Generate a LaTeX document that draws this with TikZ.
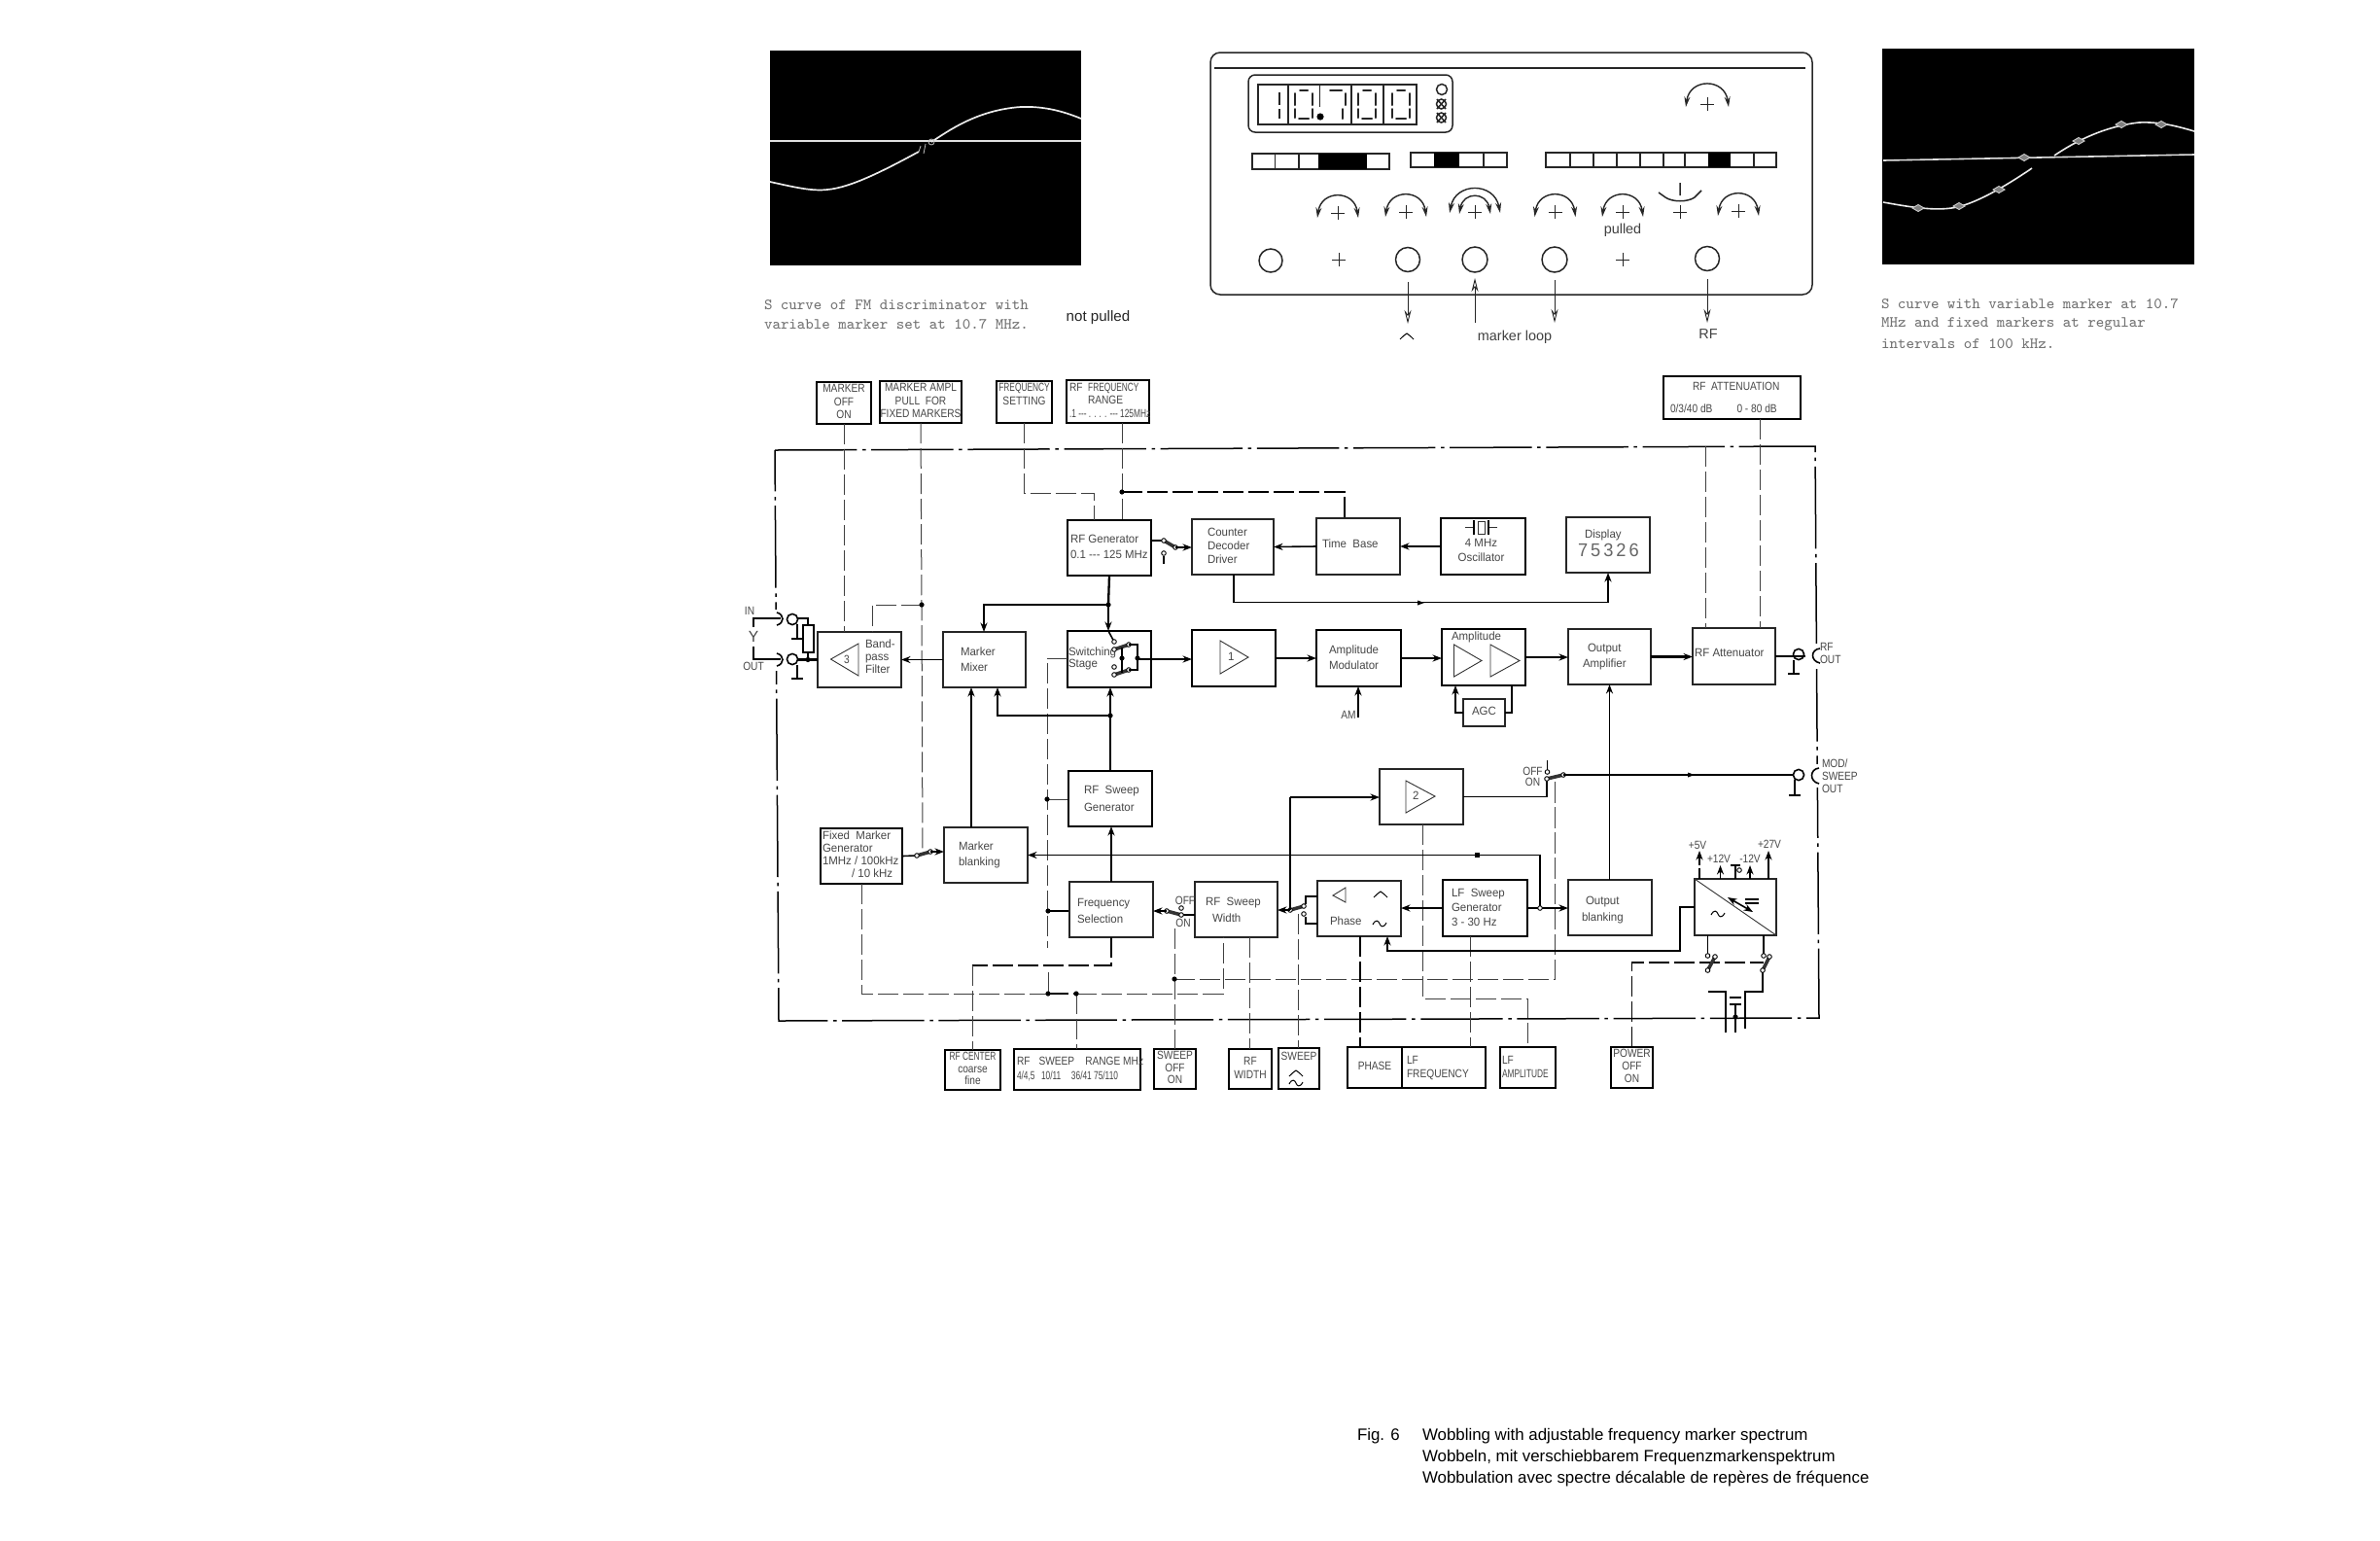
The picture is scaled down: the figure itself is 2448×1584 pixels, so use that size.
\documentclass[tikz,border=0pt]{standalone}
\usepackage{fontspec}
\usepackage{graphicx}
\usetikzlibrary{arrows.meta}
\setmainfont{Liberation Sans}
\newfontfamily\dinf[FakeStretch=0.96]{Liberation Sans}
\newfontfamily\dinu[FakeStretch=0.85]{Liberation Sans}
\newdimen\upx \upx=0.01cm
\newcommand\fsz{3.4}
\gdef\bstyle{boxthin}
\gdef\bfam{\dinf}
\newcommand\thk{\gdef\bstyle{boxthick}}
\newcommand\ctl{\gdef\bstyle{boxthick}\gdef\bfam{\dinu}}
\newcommand\sq[1]{\scalebox{.82}[1]{#1}}
\tikzset{
 boxthin/.style={draw=black!85,line width=1.4*0.01cm,inner sep=0pt,outer sep=0pt,text=black!72},
 boxthick/.style={draw=black,line width=2.4*0.01cm,inner sep=0pt,outer sep=0pt,text=black!72},
 lab/.style={inner sep=0pt,outer sep=0pt,text=black!72,font=\dinu\fontsize{3.4}{4}\selectfont},
 conn/.style={draw=black,line width=1.6*0.01cm,>={Stealth[length=2.7pt,width=2pt]}},
 connb/.style={draw=black,line width=2.3*0.01cm,>={Stealth[length=2.7pt,width=2pt]}},
 dsh/.style={draw=black!75,line width=1*0.01cm,dash pattern=on 6pt off 1.4pt},
 dshb/.style={draw=black,line width=1.25*0.01cm,dash pattern=on 6pt off 1.4pt},
 frm/.style={draw=black,line width=1.5*0.01cm,dash pattern=on 24pt off 1.6pt on 1pt off 1.6pt},
 blade/.style={draw=black!80,line width=3.6*0.01cm},
 ocirc/.style={draw=black,fill=white,line width=0.9*0.01cm},
 dotj/.style={fill=black},
 pnl/.style={draw=black!85,line width=1.5*0.01cm},
 kna/.style={draw=black!85,line width=1.4*0.01cm,<->,>={Stealth[length=3pt,width=1.7pt]}},
 capt/.style={inner sep=0pt,outer sep=0pt,anchor=west,text=black!55,font=\ttfamily\fontsize{4.55}{5}\selectfont},
 figt/.style={inner sep=0pt,outer sep=0pt,anchor=west,text=black,font=\fontsize{4.8}{5.5}\selectfont},
}
% box: [leading]{name}{x1}{y1}{x2}{y2}{left pad}{dy}{lines}
\newcommand\bx[9][13]{%
 \node[\bstyle,minimum width={(#5-#3)*0.01cm},minimum height={(#6-#4)*0.01cm},
  font=\bfam\fontsize{\fsz}{#1\upx}\selectfont] (#2) at ({(#3+#5)/2},{(#4+#6)/2})
  {\makebox[\dimexpr#5\upx-#3\upx\relax][l]{\hspace*{#7\upx}\raisebox{\dimexpr-#8\upx-1.6\upx-0.25em\relax}[0pt][0pt]{\begin{tabular}[c]{@{}l@{}}#9\end{tabular}}}};%
 \gdef\bstyle{boxthin}\gdef\bfam{\dinf}}
\newcommand\bxc[9][13]{%
 \node[\bstyle,minimum width={(#5-#3)*0.01cm},minimum height={(#6-#4)*0.01cm},
  font=\bfam\fontsize{\fsz}{#1\upx}\selectfont] (#2) at ({(#3+#5)/2},{(#4+#6)/2})
  {\makebox[\dimexpr#5\upx-#3\upx\relax][c]{\hspace*{#7\upx}\raisebox{\dimexpr-#8\upx-1.6\upx-0.25em\relax}[0pt][0pt]{\begin{tabular}[c]{@{}c@{}}#9\end{tabular}}\hspace*{-#7\upx}}};%
 \gdef\bstyle{boxthin}\gdef\bfam{\dinf}}
\newcommand\sw[4]{\draw[blade] (#1,#2)--(#3,#4); \draw[ocirc] (#1,#2) circle (2.3); \draw[ocirc] (#3,#4) circle (2.3);}
\newcommand\oc[2]{\draw[ocirc] (#1,#2) circle (2.3);}
\newcommand\jdot[2]{\fill[dotj] (#1,#2) circle (2.6);}
\newcommand\tld[2]{\draw[conn,line width=1*0.01cm] (#1-7,#2+1) .. controls (#1-4,#2-5) and (#1-1,#2-3) .. (#1,#2) .. controls (#1+1,#2+3) and (#1+4,#2+5) .. (#1+7,#2-1);}
\newcommand\crt[2]{\draw[conn,line width=1*0.01cm] (#1-7,#2+3) .. controls (#1-3,#2-1) .. (#1,#2-3) .. controls (#1+3,#2-1) .. (#1+7,#2+3);}
\newcommand\gnd[2]{\draw[conn] (#1-6,#2) -- (#1+6,#2);}
\newcommand\kn[2]{\draw[kna] (#1-21,#2+5) .. controls (#1-17,#2-24) and (#1+17,#2-24) .. (#1+21,#2+5);
 \draw[pnl,line width=0.9*0.01cm] (#1-7,#2)--(#1+7,#2) (#1,#2-7)--(#1,#2+7);}
\newcommand\pls[2]{\draw[pnl,line width=0.9*0.01cm] (#1-7,#2)--(#1+7,#2) (#1,#2-7)--(#1,#2+7);}
\newcommand\zero[1]{\draw[pnl,line cap=round,line width=2*0.01cm] (#1-4,93)--(#1+4,93) (#1-9,96)--(#1-9,108) (#1+9,96)--(#1+9,108) (#1-9,112)--(#1-9,121) (#1+9,112)--(#1+9,121) (#1-5,122)--(#1+5,122);}
\newcommand\mrk[2]{\draw[white!80!black,fill=black!50,line width=0.9*0.01cm] (#1-6,#2)--(#1,#2-3.5)--(#1+6,#2)--(#1,#2+3.5)--cycle;}
\begin{document}
\begin{tikzpicture}[x=0.01cm,y=-0.01cm]
\path[use as bounding box,fill=white] (0,0) rectangle (2448,1584);

% ---- left oscillogram
\fill[black] (792,52) rectangle (1112,273);
\draw[white!88!black,line width=1.6*0.01cm] (792,145)--(1112,145);
\draw[white!92!black,line width=1.7*0.01cm] (792,187) .. controls (815,192) and (835,197) .. (851,195) .. controls (875,193) and (910,175) .. (945,156);
\draw[white!92!black,line width=1.7*0.01cm] (958,146) .. controls (975,135) and (1005,113) .. (1050,110) .. controls (1075,109) and (1095,115) .. (1112,122);
\draw[white!75!black,line width=0.8*0.01cm] (958,146) circle (3);
\draw[white!75!black,line width=0.8*0.01cm] (945,156)--(947,150) (950,158)--(952,148);
\node[capt] (capA) at (786,314) {S curve of FM discriminator with};
\node[capt] (capB) at (786,334) {variable marker set at 10.7 MHz.};
\node[inner sep=0pt,anchor=west,font=\fontsize{4.3}{5}\selectfont,text=black!85] (notp) at (1096,327) {not pulled};

% ---- right oscillogram
\fill[black] (1936,50) rectangle (2257,272);
\draw[white!88!black,line width=1.6*0.01cm] (1937,165)--(2257,159);
\draw[white!92!black,line width=1.6*0.01cm] (1937,208) .. controls (1960,212) and (1990,218) .. (2013,213) .. controls (2035,208) and (2065,190) .. (2090,173);
\draw[white!92!black,line width=1.6*0.01cm] (2113,160) .. controls (2135,145) and (2165,130) .. (2200,126) .. controls (2222,125) and (2240,130) .. (2257,135);
\mrk{1973}{214}\mrk{2015}{212}\mrk{2056}{195}\mrk{2082}{162}\mrk{2138}{145}\mrk{2182}{128}\mrk{2223}{128}
\node[capt] (capC) at (1935,313) {S curve with variable marker at 10.7};
\node[capt] (capD) at (1935,333) {MHz and fixed markers at regular};
\node[capt] (capE) at (1935,354) {intervals of 100 kHz.};

% ---- front panel
\draw[pnl,rounded corners=10*0.01cm] (1245,54) rectangle (1864,303);
\draw[pnl,line width=1.9*0.01cm] (1249,70)--(1857,70);
\draw[pnl,rounded corners=7*0.01cm] (1284,77) rectangle (1494,136);
\draw[pnl] (1294,87) rectangle (1457,128);
\draw[pnl] (1325,87)--(1325,128) (1390,87)--(1390,128) (1423,87)--(1423,128);
\draw[pnl,line width=0.8*0.01cm] (1357.5,87)--(1357.5,110);
\draw[pnl,line width=2*0.01cm] (1316,95)--(1316,108) (1316,112)--(1316,122);
\zero{1341}\zero{1406}\zero{1441}
\draw[pnl,line cap=round,line width=2*0.01cm] (1368,93)--(1380,93) (1384,96)--(1384,108) (1381,112)--(1381,122);
\fill[black] (1358,120) circle (3.6);
\draw[pnl] (1483,92) circle (5.5);
\draw[pnl] (1482.5,107) circle (5) (1478,102)--(1487,112) (1487,102)--(1478,112);
\draw[pnl] (1482.5,121) circle (5) (1478,116)--(1487,126) (1487,116)--(1478,126);
% bars
\draw[pnl,line width=1.9*0.01cm] (1288,158) rectangle (1429,174);
\fill[black] (1356,158) rectangle (1406,174);
\draw[pnl] (1311.5,158)--(1311.5,174) (1336,158)--(1336,174);
\draw[pnl,line width=1.9*0.01cm] (1451,157) rectangle (1550,172);
\fill[black] (1475,157) rectangle (1501,172);
\draw[pnl] (1526,157)--(1526,172);
\draw[pnl,line width=1.9*0.01cm] (1590,157) rectangle (1827,172);
\fill[black] (1757,157) rectangle (1780,172);
\draw[pnl] (1615,157)--(1615,172) (1639,157)--(1639,172) (1663,157)--(1663,172) (1687,157)--(1687,172) (1711,157)--(1711,172) (1733,157)--(1733,172) (1804,157)--(1804,172);
% knobs
\draw[kna] (1734,110) .. controls (1738,80) and (1774,80) .. (1778,110);
\pls{1756}{107}
\kn{1376}{219}\kn{1446}{218}\kn{1599.5}{218}\kn{1669}{218}\kn{1788}{217}
\draw[kna] (1491,219) .. controls (1497,187) and (1537,187) .. (1543,219);
\draw[kna] (1501,220) .. controls (1505,197) and (1529,197) .. (1533,220);
\pls{1517}{218}
\draw[pnl] (1706,198)--(1713,203) .. controls (1720,208) and (1736,208) .. (1743,203)--(1750,196) (1728,188)--(1728,201);
\pls{1728}{218}
\node[inner sep=0pt,font=\fontsize{4.1}{5}\selectfont,text=black!75] (pulled) at (1669,237) {pulled};
\draw[pnl] (1307,268) circle (12);\draw[pnl] (1448,267) circle (12.5);\draw[pnl] (1517,267) circle (13);\draw[pnl] (1599,267) circle (13);\draw[pnl] (1756,266) circle (12.5);
\pls{1377}{267}\pls{1669}{267}
\tikzset{opa/.style={draw=black!85,line width=0.9*0.01cm,>={Stealth[open,length=4pt,width=2pt]}}}
\draw[opa,->] (1448,290)--(1448,333);
\draw[opa,->] (1517,332)--(1517,286);
\draw[opa,->] (1599,288)--(1599,332);
\draw[opa,->] (1756,287)--(1756,332);
\crt{1447}{346}
\node[inner sep=0pt,font=\fontsize{4.1}{5}\selectfont,text=black!75] (mloop) at (1558,347) {marker loop};
\node[inner sep=0pt,font=\fontsize{4.1}{5}\selectfont,text=black!75] (rfl) at (1757,344) {RF};

% ---- boundary of the unit
\draw[frm] (797,463)--(1867,459)--(1871,1047)--(801,1050)--cycle;
\fill[white] (793,627) rectangle (803,690);
\fill[white] (1862,662) rectangle (1876,688);
\fill[white] (1862,786) rectangle (1876,810);

% ---- control boxes (top)
\ctl\bxc[13.5]{mkoff}{840}{393}{896}{436}{0}{0}{MARKER\\OFF\\ON}
\ctl\bxc[13.5]{mkampl}{905}{392}{989}{435}{0}{0}{MARKER AMPL\\PULL\ \ FOR\\FIXED MARKERS}
\ctl\bxc[13.5]{freqset}{1025}{392}{1082}{435}{0}{-7}{\sq{FREQUENCY}\\SETTING}
\ctl\bx[13.5]{rfrange}{1097}{391}{1182}{435}{3}{0}{RF\ \ \sq{FREQUENCY}\\\hspace*{19\upx}RANGE\\\sq{.1 --- . . . . --- 125MHz}}
\ctl\bx[23]{rfatt}{1711}{387}{1852}{431}{7}{-1}{\hspace*{23\upx}RF\ \ ATTENUATION\\0/3/40 dB\hspace*{25\upx}0 - 80 dB}

% ---- function blocks
\thk\bx[16]{rfgen}{1098}{535}{1184}{592}{3}{0}{RF Generator\\0.1 --- 125 MHz}
\bx[14]{counter}{1226}{534}{1310}{591}{16}{0}{Counter\\Decoder\\Driver}
\bx{timebase}{1354}{533}{1440}{591}{6}{-1}{Time\ \ Base}
\thk\bxc[15]{osc}{1482}{533}{1569}{591}{-2}{5}{4 MHz\\Oscillator}
\bx[19]{display}{1611}{532}{1697}{589}{12}{-2}{\hspace*{7\upx}Display\\{\fontsize{5.4}{6}\selectfont\color{black!60}7\hspace{3\upx}5\hspace{3\upx}3\hspace{3\upx}2\hspace{3\upx}6}}
\bx{bandpass}{841}{650}{927}{707}{49}{-2}{Band-\\pass\\Filter}
\bx[16]{mixer}{970}{650}{1055}{707}{18}{1}{Marker\\Mixer}
\thk\bx[12]{switching}{1098}{649}{1184}{707}{1}{0}{Switching\\Stage}
\thk\bx{ampone}{1226}{648}{1312}{706}{37}{0}{1}
\thk\bx[16]{ampmod}{1354}{648}{1441}{706}{13}{0}{Amplitude\\Modulator}
\thk\bx{amplitude}{1483}{647}{1569}{705}{10}{-20}{Amplitude}
\bx[16]{output}{1613}{647}{1698}{704}{15}{0}{\hspace*{5\upx}Output\\Amplifier}
\bx{rfatten}{1741}{646}{1826}{704}{2}{-2}{RF Attenuator}
\bxc{agc}{1505}{719}{1548}{747}{0}{0}{AGC}
\thk\bx[18]{sweepgen}{1099}{793}{1185}{850}{16}{0}{RF\ \ Sweep\\Generator}
\thk\bx[13]{fixedmk}{844}{852}{928}{909}{2}{0}{Fixed\ \ Marker\\Generator\\1MHz / 100kHz\\\hspace*{30\upx}/ 10 kHz}
\bx[16]{blanking}{971}{851}{1057}{908}{15}{0}{Marker\\blanking}
\bx[17]{freqsel}{1100}{907}{1186}{964}{8}{2}{Frequency\\Selection}
\bx[17]{sweepw}{1229}{907}{1314}{964}{11}{1}{RF\ \ Sweep\\\hspace*{7\upx}Width}
\bx{phase}{1355}{906}{1441}{963}{13}{14}{Phase}
\thk\bx[15]{lfsweep}{1484}{905}{1571}{963}{9}{0}{LF\ \ Sweep\\Generator\\3 - 30 Hz}
\bx[17]{outblank}{1613}{905}{1699}{962}{14}{2}{\hspace*{4\upx}Output\\blanking}
\bx{psu}{1743}{904}{1827}{962}{0}{0}{}
\bx{amptwo}{1419}{791}{1505}{848}{34}{0}{2}

% ---- control boxes (bottom)
\ctl\bxc[12.5]{rfcenter}{972}{1080}{1029}{1121}{0}{0}{\sq{RF CENTER}\\coarse\\fine}
\ctl\bx[15]{rangebox}{1043}{1079}{1173}{1121}{3}{0}{RF\hspace*{9\upx}SWEEP\hspace*{11\upx}RANGE MHz\\\sq{4/4,5\hspace*{8\upx}10/11\hspace*{13\upx}36/41\ 75/110}}
\ctl\bxc[12.5]{sweepoff}{1187}{1079}{1230}{1120}{0}{0}{SWEEP\\OFF\\ON}
\ctl\bxc[14]{rfwidth}{1264}{1079}{1308}{1120}{0}{0}{RF\\WIDTH}
\ctl\bxc{sweepbox}{1315}{1078}{1357}{1120}{0}{-11}{SWEEP}
\ctl\bxc{phasebox}{1386}{1077}{1442}{1119}{0}{0}{PHASE}
\ctl\bx[14]{lffreq}{1442}{1077}{1528}{1119}{5}{0}{LF\\FREQUENCY}
\ctl\bx[14]{lfamp}{1543}{1077}{1600}{1119}{2}{0}{LF\\\sq{AMPLITUDE}}
\ctl\bxc[13]{power}{1657}{1077}{1700}{1119}{0}{0}{POWER\\OFF\\ON}

% ---- symbols inside blocks
\tikzset{sym/.style={draw=black!80,line width=0.9*0.01cm}}
\draw[sym] (854.5,678)--(883,662)--(883,695)--cycle;
\node[lab] (bpthree) at (871,678) {3};
\draw[sym] (1255,659)--(1284,676)--(1255,693)--cycle;
\draw[sym] (1495.5,663)--(1524,679.5)--(1495.5,696)--cycle;
\draw[sym] (1533,663)--(1563,679.5)--(1533,696)--cycle;
\draw[sym] (1446,803)--(1476,819)--(1446,836)--cycle;
\draw[sym] (1371,921)--(1384,913)--(1384,928)--cycle;
\crt{1420}{920}
\tld{1419}{950}
\crt{1333}{1104}
\tld{1333}{1114}
\draw[sym] (1507,542)--(1516,542) (1532,542)--(1540,542);
\draw[conn,line width=2.2*0.01cm] (1516,535)--(1516,550) (1531,535)--(1531,550);
\draw[sym] (1520,536) rectangle (1527,549);
\draw[sym] (1743,904)--(1827,962);
\tld{1767}{940}
\draw[conn] (1795,925)--(1809,925) (1795,929)--(1809,929);
\draw[conn,<->] (1777,923)--(1803,938);

% ---- input / output jacks
\draw[conn] (799,630) .. controls (807,632) and (807,641) .. (799,643);
\draw[conn] (799,672) .. controls (807,674) and (807,683) .. (799,685);
\draw[conn] (815,637) circle (5.6);
\draw[conn] (815,678) circle (5.6);
\draw[conn] (1872,667) .. controls (1862,668) and (1862,680) .. (1872,682);
\draw[conn] (1871,790) .. controls (1861,791) and (1861,804) .. (1871,806);
\draw[conn] (1850,673) circle (5.6);
\draw[conn] (1850,797) circle (5.6);

\node[lab] (lin) at (771,628) {IN};
\node[lab,font=\dinf\fontsize{4.6}{5}\selectfont] (ly) at (775,655) {Y};
\node[lab] (lout) at (775,685) {OUT};
\node[lab,anchor=west] (lrf) at (1872,665) {RF};
\node[lab,anchor=west] (lrfo) at (1872,678) {OUT};
\node[lab,anchor=west] (lmod) at (1874,785) {MOD/};
\node[lab,anchor=west] (lswp) at (1874,798) {SWEEP};
\node[lab,anchor=west] (lswo) at (1874,811) {OUT};
\node[lab] (lam) at (1387,735) {AM};
\node[lab] (loff) at (1576.5,793) {OFF};
\node[lab] (lon) at (1576.5,804) {ON};
\node[lab] (loff2) at (1219,926) {OFF};
\node[lab] (lon2) at (1217,949) {ON};
\node[lab] (lfive) at (1746,869) {+5V};
\node[lab] (ltw) at (1768,883) {+12V};
\node[lab] (lmtw) at (1800,883) {-12V};
\node[lab] (ltws) at (1820,868) {+27V};

% ---- named junctions
\coordinate (jma) at (948,622);
\coordinate (bpin) at (897,650);
\coordinate (bld) at (949,877);
\coordinate (jfs) at (1125,507);
\coordinate (fgin) at (1125,535);
\coordinate (jrng) at (1154,506);
\coordinate (rgin) at (1154,535);
\coordinate (tbin) at (1383,533);
\coordinate (attA) at (1810,646);
\coordinate (attB) at (1754,646);
\coordinate (attC) at (1754,459);
\coordinate (swd) at (1077,677);
\coordinate (swe) at (1077,975);
\coordinate (jsg) at (1077,822);
\coordinate (jfq) at (1078,937);
\coordinate (jbot) at (1078,1022);
\coordinate (jbup) at (1078,1000);
\coordinate (jrn) at (1107,1022);
\coordinate (ccn) at (1000,993);
\coordinate (jsw) at (1208,1007);
\coordinate (swtop) at (1208,955);
\coordinate (modsw) at (1599,800);
\coordinate (dwA) at (1258,964);
\coordinate (dwB) at (1285,964);
\coordinate (dwC) at (1335,940);
\coordinate (phd) at (1399,963);
\coordinate (lfx) at (1512,963);
\coordinate (amu) at (1463,1027);
\coordinate (psw) at (1814,990);

% ---- dashed control lines
\draw[dsh] (mkoff.south) -- (mkoff.south |- bandpass.north);
\draw[dsh] (mkampl.south) -- (jma) -- (bld);
\draw[dsh] (jma) -| (bpin);
\draw[dsh] (freqset.south) |- (jfs) -- (fgin);
\draw[dsh] (jrng |- rfrange.south) -- (jrng) -- (rgin);
\draw[dshb] (jrng) -| (tbin);
\draw[dsh] (attA |- rfatt.south) -- (attA);
\draw[dsh] (attC) -- (attB);
\draw[dsh] (swd -| switching.west) -- (swd) -- (swe);
\draw[dsh] (jsg) -- (jsg -| sweepgen.west);
\draw[dshb] (jfq) -- (jfq -| freqsel.west);
\draw[dsh] (jbup) -- (jbot);
\draw[dsh] (fixedmk.south) |- (jbot);
\draw[dshb] (jbot) -- (jrn);
\draw[dsh] (jrn) -| (dwA);
\draw[dsh] (jrn) -- (jrn |- rangebox.north);
\draw[dshb] (freqsel.south) |- (ccn);
\draw[dsh] (ccn) -- (ccn |- rfcenter.north);
\draw[dsh] (swtop) -- (jsw) -- (jsw |- sweepoff.north);
\draw[dsh] (jsw) -| (modsw);
\draw[dsh] (dwB) -- (dwB |- rfwidth.north);
\draw[dsh] (dwC) -- (dwC |- sweepbox.north);
\draw[dshb] (phd) -- (phd |- phasebox.north);
\draw[dsh] (lfx) -- (lfx |- lffreq.north);
\draw[dsh] (amu |- amptwo.south) -- (amu) -| (lfamp.north);
\draw[dshb] (power.north) |- (psw);
\jdot{948}{622}\jdot{1154}{506}\jdot{1077}{822}\jdot{1078}{937}\jdot{1078}{1022}\jdot{1107}{1022}\jdot{1208}{1007}

% ---- signal connectors
\draw[conn,->] (mixer.west) -- (bandpass.east);
\draw[connb] (bandpass.west) -- (820.6,678.5);
\draw[conn] (820,636) -- (831,636) -- (831,643);
\draw[conn] (831,671) -- (831,678.5);
\draw[conn] (826,643) rectangle (837,671);
\jdot{831}{678.5}
\draw[conn] (775,645) -- (775,636) -- (803,636);
\draw[conn] (775,665) -- (775,678) -- (803,678);
\draw[conn] (820,642) -- (820,657); \gnd{820}{657}
\draw[conn] (820,684) -- (820,698); \gnd{820}{698}

\coordinate (rgo) at (1197,556);
\draw[connb] (rgo -| rfgen.east) -- (rgo);
\sw{1197}{556}{1209}{563}
\coordinate (cin) at (1209,563);
\draw[connb,->] (cin) -- (cin -| counter.west);
\draw[conn] (1197,580) -- (1197,572); \oc{1197}{569}
\draw[conn,->] (timebase.west) -- (counter.east);
\draw[connb,->] (osc.west) -- (timebase.east);
\coordinate (cnt) at (1269,591);
\coordinate (dsp) at (1654,589);
\draw[conn,->] (cnt) |- (1654,619.5) -- (dsp);
\fill[black] (1458,617.5) -- (1465,620) -- (1458,622.5) -- cycle;

\coordinate (jrf) at (1140,622);
\draw[connb] (rfgen.south) -- (jrf);
\draw[connb,->] (jrf) -- (jrf |- switching.north);
\coordinate (mxt) at (1012,650);
\draw[connb,->] (jrf) -| (mxt);
\jdot{1140}{622}

% switching stage interior
\draw[conn] (1140,649) -- (1146,660);
\sw{1146}{668}{1161}{663}
\sw{1146}{694}{1161}{689}
\oc{1146}{660}\oc{1146}{686}
\draw[conn] (1161,663) -- (1170,663) -- (1170,689) -- (1161,689);
\draw[conn] (1154,666) -- (1154,692);
\jdot{1154}{677}\jdot{1170}{677}
\coordinate (swo) at (1170,678);
\draw[conn] (swo) -- (swo -| switching.east);

\draw[conn,->] (switching.east) -- (switching.east -| ampone.west);
\draw[connb,->] (ampone.east) -- (ampone.east -| ampmod.west);
\draw[connb,->] (ampmod.east) -- (ampmod.east -| amplitude.west);
\draw[connb,->] (amplitude.east) -- (amplitude.east -| output.west);
\draw[connb,->] (output.east) -- (output.east -| rfatten.west);
\draw[conn] (rfatten.east) -- (1857,675);
\draw[conn] (1845,679) -- (1845,693); \gnd{1845}{693}
\coordinate (amf) at (1397,738);
\draw[conn,->] (amf) -- (amf |- ampmod.south);
\coordinate (agl) at (1497,705);
\coordinate (agr) at (1555,705);
\draw[conn,->] (agc.west) -| (agl);
\draw[conn] (agc.east) -| (agr);
\draw[conn,->] (outblank.north -| output.south) -- (output.south);

\coordinate (jbl) at (1142,736);
\draw[connb,->] (sweepgen.north) -- (jbl) -- (jbl |- switching.south);
\coordinate (mxb) at (1026,707);
\draw[connb,->] (jbl) -| (mxb);
\jdot{1142}{736}
\coordinate (mxa) at (999,707);
\draw[connb,->] (mxa |- blanking.north) -- (mxa);
\coordinate (fxa) at (943,880);
\draw[conn] (fixedmk.east) -- (fxa);
\sw{943}{880}{957}{876}
\coordinate (fxb) at (957,876);
\draw[conn,->] (fxb) -- (fxb -| blanking.west);
\draw[conn,->] (freqsel.north) -- (freqsel.north |- sweepgen.south);
\coordinate (lfo) at (1584,934);
\draw[conn,->] (lfo) |- (blanking.east);
\fill[black] (1517,877) rectangle (1522,882);
\draw[connb,->] (lfsweep.east) -- (lfsweep.east -| outblank.west);
\oc{1584}{934}
\draw[connb,->] (lfsweep.west) -- (lfsweep.west -| phase.east);
% phase switch
\coordinate (psa) at (1343,922);
\coordinate (psb) at (1343,950);
\draw[conn] (psa -| phase.west) -- (psa) -- (1343,930);
\draw[conn] (psb -| phase.west) -- (psb) -- (1343,943);
\sw{1327}{936}{1341}{932}
\oc{1341}{940}
\coordinate (swi) at (1327,936);
\draw[conn,->] (swi) -- (swi -| sweepw.east);
\coordinate (a2in) at (1327,820);
\draw[conn] (swi) -- (a2in);
\draw[conn,->] (a2in) -- (a2in -| amptwo.west);
% sweep width switch
\coordinate (swa) at (1215,941);
\coordinate (swb) at (1200,937);
\draw[conn] (swa -| sweepw.west) -- (swa);
\sw{1215}{941}{1200}{937}
\oc{1215}{934}
\draw[connb,->] (swb) -- (swb -| freqsel.east);
% modulation switch
\coordinate (mda) at (1591,801);
\draw[conn] (amptwo.east) -| (mda);
\sw{1591}{801}{1608}{797}
\oc{1591.5}{794}
\draw[conn] (1591.5,782) -- (1591.5,792);
\draw[conn] (1608,797) -- (1844,797);
\fill[black] (1736,794.5) -- (1743,797) -- (1736,799.5) -- cycle;
\draw[conn] (1846,802) -- (1846,818); \gnd{1846}{818}
% power
\coordinate (psl) at (1743,933);
\coordinate (phin) at (1427,963);
\draw[connb,->] (psl) -- (1728,933) -- (1728,978) -| (phin);
\draw[conn,->,dash pattern=on 3pt off 1pt] (1748,904) -- (1748,875);
\draw[conn,->] (1769.5,904) -- (1769.5,890);
\draw[conn,->] (1800,904) -- (1800,890);
\draw[conn,->] (1819,904) -- (1819,875);
\draw[conn] (1785,904) -- (1785,891);
\draw[connb] (1780,890) -- (1790,890);
\oc{1789}{895}
\draw[conn] (1756.5,962) -- (1756.5,981);
\draw[conn] (1814,962) -- (1814,981);
\sw{1756.5}{998}{1764}{984}
\sw{1813}{998}{1820}{984}
\oc{1756.5}{983}\oc{1814}{983}
\draw[conn] (1813,1000) -- (1813,1020) -- (1795,1020) -- (1795,1058);
\draw[conn] (1757,1020) -- (1775,1020) -- (1775,1062);
\draw[conn] (1785,1033) -- (1785,1062);
\gnd{1785}{1033}\gnd{1785}{1026}
\jdot{1785}{1046}

% ---- caption
\node[figt] (figno) at (1396,1477) {Fig. 6};
\node[figt] (figa) at (1463,1477) {Wobbling with adjustable frequency marker spectrum};
\node[figt] (figb) at (1463,1499) {Wobbeln, mit verschiebbarem Frequenzmarkenspektrum};
\node[figt] (figc) at (1463,1521) {Wobbulation avec spectre décalable de repères de fréquence};
\end{tikzpicture}
\end{document}
